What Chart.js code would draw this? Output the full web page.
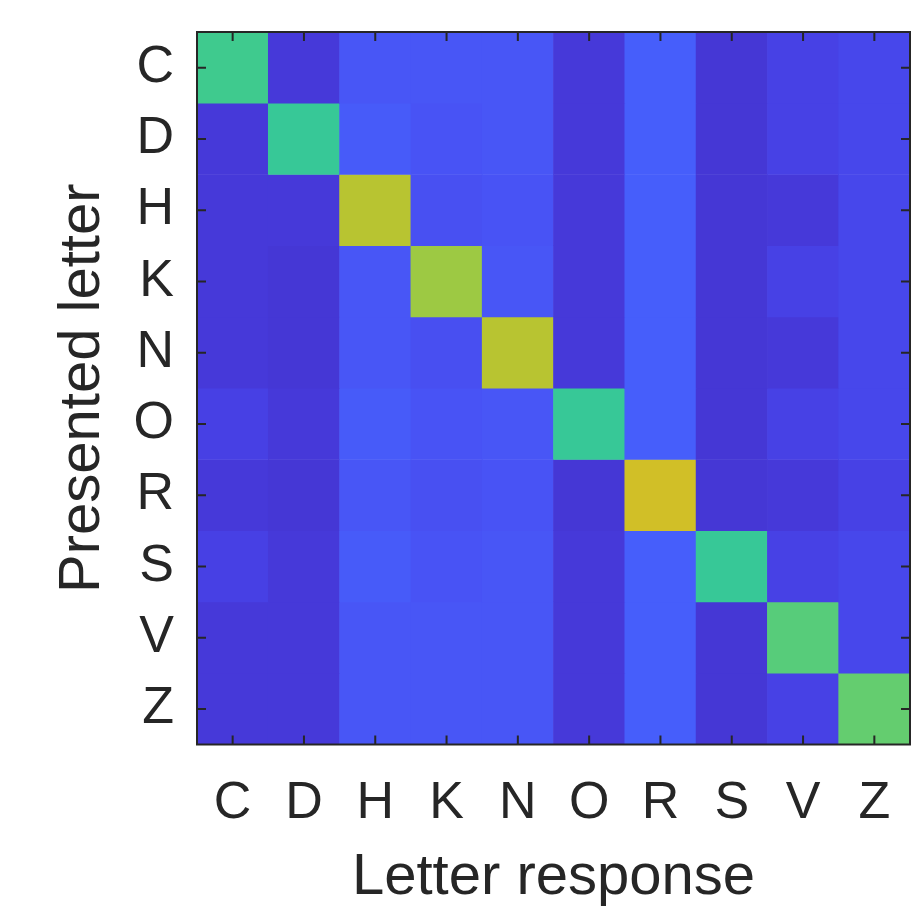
<!DOCTYPE html>
<html>
<head>
<meta charset="utf-8">
<script src="https://cdn.jsdelivr.net/npm/chart.js@4.4.1/dist/chart.umd.min.js"></script>
<style>
  html, body { margin: 0; padding: 0; background: #fff; }
</style>
</head>
<body>
<canvas id="chart-confusion" width="913" height="909"></canvas>
<script>
// Letters, used both for presented (rows) and response (columns)
const letters = ['C', 'D', 'H', 'K', 'N', 'O', 'R', 'S', 'V', 'Z'];

// Response strength (%) for each presented letter, columns follow `letters`
const rowC = [58.7, 7.1, 15.2, 15.2, 15.2, 7.1, 17.5, 6.3, 9.5, 11.1];
const rowD = [7.1, 57.1, 16.8, 14.6, 15.2, 7.1, 17.5, 6.3, 9.5, 11.1];
const rowH = [7.1, 7.1, 73.0, 13.5, 14.6, 7.1, 17.5, 6.3, 7.1, 11.1];
const rowK = [7.1, 6.3, 15.2, 69.8, 15.2, 7.1, 17.5, 6.3, 9.5, 11.1];
const rowN = [7.1, 6.3, 15.2, 13.2, 73.0, 7.1, 17.5, 6.3, 7.1, 11.1];
const rowO = [9.2, 7.1, 16.8, 14.6, 15.2, 57.1, 17.5, 6.3, 9.5, 11.1];
const rowR = [7.1, 6.3, 15.2, 13.5, 14.6, 6.3, 76.2, 6.3, 7.1, 9.5];
const rowS = [9.2, 7.1, 16.8, 14.6, 15.2, 7.1, 17.5, 57.1, 9.5, 11.1];
const rowV = [7.1, 7.1, 15.2, 15.2, 15.2, 7.1, 17.5, 6.3, 61.9, 11.1];
const rowZ = [7.1, 7.1, 15.2, 15.2, 15.2, 7.1, 17.5, 6.3, 9.5, 63.5];
const presented = [rowC, rowD, rowH, rowK, rowN, rowO, rowR, rowS, rowV, rowZ];

const colorMin = 0;
const colorMax = 100;

// parula colormap (64 steps)
const parula = [
  [0.242,0.150,0.660],[0.250,0.165,0.708],[0.258,0.182,0.751],[0.265,0.198,0.795],
  [0.271,0.215,0.836],[0.275,0.234,0.871],[0.278,0.256,0.899],[0.280,0.278,0.922],
  [0.281,0.301,0.941],[0.281,0.323,0.958],[0.280,0.345,0.972],[0.276,0.367,0.983],
  [0.270,0.389,0.991],[0.260,0.412,0.995],[0.244,0.436,0.999],[0.221,0.460,0.997],
  [0.196,0.485,0.989],[0.183,0.507,0.980],[0.179,0.529,0.968],[0.176,0.550,0.952],
  [0.169,0.570,0.936],[0.154,0.590,0.922],[0.146,0.609,0.908],[0.138,0.628,0.897],
  [0.125,0.646,0.888],[0.111,0.664,0.876],[0.095,0.680,0.860],[0.069,0.695,0.839],
  [0.030,0.708,0.816],[0.004,0.720,0.792],[0.007,0.731,0.766],[0.043,0.741,0.739],
  [0.096,0.750,0.712],[0.141,0.758,0.684],[0.172,0.767,0.655],[0.194,0.776,0.625],
  [0.216,0.784,0.592],[0.247,0.792,0.557],[0.291,0.797,0.519],[0.341,0.801,0.479],
  [0.391,0.803,0.435],[0.446,0.802,0.391],[0.504,0.799,0.348],[0.562,0.794,0.305],
  [0.617,0.788,0.261],[0.672,0.779,0.223],[0.724,0.770,0.191],[0.774,0.760,0.165],
  [0.820,0.750,0.154],[0.863,0.741,0.160],[0.904,0.733,0.177],[0.939,0.729,0.210],
  [0.973,0.730,0.239],[0.996,0.743,0.237],[0.997,0.766,0.220],[0.995,0.789,0.203],
  [0.989,0.814,0.189],[0.979,0.839,0.177],[0.968,0.864,0.164],[0.961,0.889,0.154],
  [0.960,0.914,0.142],[0.963,0.937,0.127],[0.969,0.961,0.106],[0.977,0.984,0.081]
];

function colorFor(v) {
  let t = (v - colorMin) / (colorMax - colorMin);
  t = Math.max(0, Math.min(1, t)) * (parula.length - 1);
  const i = Math.min(Math.floor(t), parula.length - 2);
  const f = t - i;
  const c = parula[i].map((a, k) => Math.round((a + (parula[i + 1][k] - a) * f) * 255));
  return `rgb(${c[0]},${c[1]},${c[2]})`;
}

const textColor = '#262626';
const fontFamily = '"Liberation Sans", Helvetica, Arial, sans-serif';

// inward ticks on all four sides plus the box, like a matlab axes
const boxTicks = {
  id: 'boxTicks',
  afterDatasetsDraw(chart) {
    const { ctx, chartArea: a, scales: { x, y } } = chart;
    const len = 9;
    ctx.save();
    ctx.strokeStyle = textColor;
    ctx.lineWidth = 2;
    ctx.beginPath();
    letters.forEach((l, i) => {
      const px = x.getPixelForValue(i);
      ctx.moveTo(px, a.bottom); ctx.lineTo(px, a.bottom - len);
      ctx.moveTo(px, a.top); ctx.lineTo(px, a.top + len);
      const py = y.getPixelForValue(i + 0.5);
      ctx.moveTo(a.left, py); ctx.lineTo(a.left + len, py);
      ctx.moveTo(a.right, py); ctx.lineTo(a.right - len, py);
    });
    ctx.stroke();
    ctx.strokeRect(a.left, a.top, a.right - a.left, a.bottom - a.top);
    ctx.restore();
  }
};

// each presented letter is a band of unit height, stacked down the y axis
const datasets = presented.map((row, r) => ({
  label: letters[r],
  data: row.map(() => 1),
  backgroundColor: row.map(v => colorFor(v)),
  borderWidth: 0,
  barPercentage: 1,
  categoryPercentage: 1
}));

new Chart(document.getElementById('chart-confusion'), {
  type: 'bar',
  data: { labels: letters, datasets: datasets },
  options: {
    responsive: false,
    animation: false,
    layout: { padding: { top: 32, right: 3, left: 0, bottom: 0 } },
    scales: {
      x: {
        stacked: true,
        grid: { display: false },
        border: { display: false },
        ticks: { color: textColor, padding: 20, font: { family: fontFamily, size: 52 } },
        title: {
          display: true,
          text: 'Letter response',
          color: textColor,
          padding: { top: 0, bottom: 2 },
          font: { family: fontFamily, size: 58, lineHeight: 1 }
        },
        afterFit: (scale) => {
          scale.height = 164.5;
          scale.paddingLeft = 0;
          scale.paddingRight = 0;
        }
      },
      y: {
        stacked: true,
        reverse: true,
        min: 0,
        max: letters.length,
        grid: { display: false },
        border: { display: false },
        afterBuildTicks: (scale) => {
          scale.ticks = letters.map((l, i) => ({ value: i + 0.5 }));
        },
        ticks: {
          color: textColor,
          padding: 15,
          font: { family: fontFamily, size: 52 },
          callback: (v) => letters[Math.floor(v)]
        },
        title: {
          display: true,
          text: 'Presented letter',
          color: textColor,
          padding: { top: 54, bottom: 0 },
          font: { family: fontFamily, size: 58, lineHeight: 1 }
        },
        afterFit: (scale) => {
          scale.width = 197;
          scale.paddingTop = 0;
          scale.paddingBottom = 0;
        }
      }
    },
    plugins: {
      legend: { display: false },
      tooltip: { enabled: false }
    }
  },
  plugins: [boxTicks]
});
</script>
</body>
</html>
